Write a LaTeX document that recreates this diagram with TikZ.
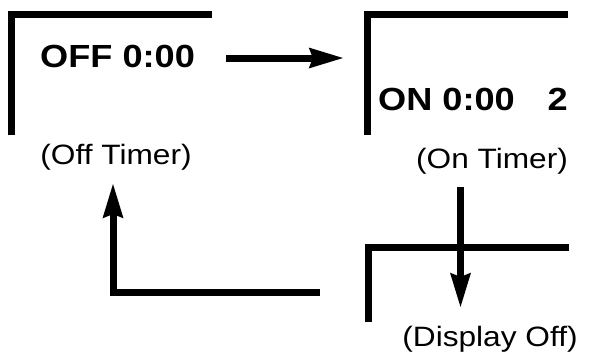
\documentclass[tikz,border=0pt]{standalone}
\usepackage{fontspec}
\setmainfont{Liberation Sans}
\newfontfamily\dispfont[FakeStretch=1.13]{Liberation Sans}
\usetikzlibrary{arrows.meta}
\begin{document}
\begin{tikzpicture}[x=1pt,y=-1pt,
  frame/.style={line width=7pt, line join=miter, line cap=butt},
  flow/.style={line width=7pt, line join=miter, -{Stealth[length=34pt,width=19pt,inset=3pt]}},
  screen/.style={font=\dispfont\fontsize{32}{32}\selectfont\bfseries, inner sep=0pt, anchor=base west},
  caption/.style={font=\dispfont\fontsize{28}{28}\selectfont, inner sep=0pt, anchor=base}]
\useasboundingbox (0,0) rectangle (601,354);
% frames
\draw[frame] (11.5,135) -- (11.5,14) -- (212,14);
\draw[frame] (367,135) -- (367,14) -- (568,14);
\draw[frame] (368.5,322) -- (368.5,247) -- (569,247);
% texts
\node[screen] (off) at (40,67) {OFF 0:00};
\node[screen] (on) at (378,110) {ON 0:00};
\node[screen, anchor=base east] (two) at (568,110) {2};
\node[caption] (offcap) at (116,164) {(Off Timer)};
\node[caption] (oncap) at (492,168) {(On Timer)};
\node[caption] (dispcap) at (490,346) {(Display Off)};
% connector endpoints
\coordinate (a1s) at (226,58);
\coordinate (a1e) at (344,58);
\coordinate (a2s) at (460.5,187);
\coordinate (a2e) at (460.5,308);
\coordinate (a3s) at (320,292);
\coordinate (a3c) at (113,292);
\coordinate (a3e) at (113,183);
\draw[flow] (a1s) -- (a1e);
\draw[flow] (a2s) -- (a2e);
\draw[flow] (a3s) -- (a3c) -- (a3e);
\end{tikzpicture}
\end{document}
